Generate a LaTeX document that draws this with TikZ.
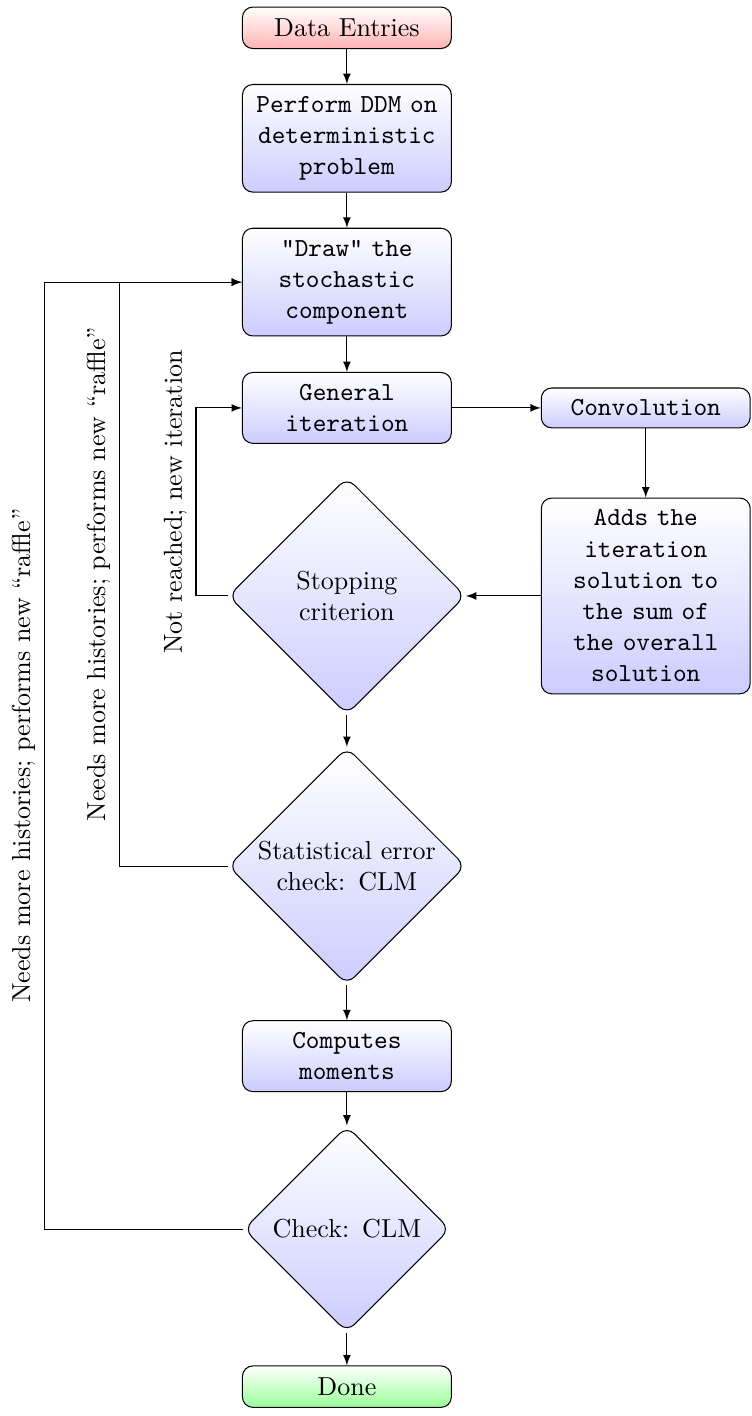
\documentclass[tikz,border=0pt]{standalone}
\usetikzlibrary{shapes.geometric,arrows,positioning}

\tikzset{
  block/.style={rectangle, draw, rounded corners, top color=white, bottom color=blue!20,
                text width=73.7pt, align=center, inner xsep=3.33pt, inner ysep=4.5pt, font=\ttfamily},
  terminal/.style={rectangle, draw, rounded corners,
                text width=73.7pt, align=center, inner xsep=3.33pt, inner ysep=4.5pt},
  decision/.style={diamond, draw, rounded corners, aspect=1, top color=white, bottom color=blue!20,
                text width=72pt, align=center, inner sep=0pt},
  line/.style={draw, -latex},
}

\begin{document}
\begin{tikzpicture}

   \useasboundingbox (0,0) rectangle (10.154,-19.144);

   % Main column
   \node[terminal, top color=white, bottom color=red!30] (data) at (4.69,-0.376) {Data Entries};
   \node[block] (ddm) at (4.69,-1.870) {Perform DDM on\\deterministic\\problem};
   \node[block] (draw) at (4.69,-3.814) {"Draw" the\\stochastic\\component};
   \node[block] (iter) at (4.69,-5.515) {General\\iteration};
   \node[decision] (stop) at (4.69,-8.057) {Stopping\\criterion};
   \node[decision] (stat) at (4.69,-11.709) {Statistical error\\check: CLM};
   \node[block] (mom) at (4.69,-14.279) {Computes\\moments};
   \node[decision] (check) at (4.69,-16.617) {Check: CLM};
   \node[terminal, top color=white, bottom color=green!40] (done) at (4.69,-18.747) {Done};

   % Side column
   \node[block] (conv) at (8.73,-5.515) {Convolution};
   \node[block] (adds) at (8.73,-8.057) {Adds the\\iteration\\solution to\\the sum of\\the overall\\solution};

   % Edges
   \path[line] (data) -- (ddm);
   \path[line] (ddm) -- (draw);
   \path[line] (draw) -- (iter);
   \path[line] (iter) -- (conv);
   \path[line] (conv) -- (adds);
   \path[line] (adds) -- (stop);
   \path[line] (stop) -- (stat);
   \path[line] (stat) -- (mom);
   \path[line] (mom) -- (check);
   \path[line] (check) -- (done);

   % Loops
   \coordinate (nr) at (2.650,-8.057);
   \path[line] (stop.west) -- (nr)
        -- node[above, sloped] {Not reached; new iteration} (nr |- iter.west) -- (iter.west);

   \coordinate (inner) at (1.613,-11.709);
   \path[line] (stat.west) -- (inner)
        -- node[above, sloped] {Needs more histories; performs new ``raffle''} (inner |- draw.west) -- (draw.west);

   \coordinate (outer) at (0.598,-16.617);
   \path[line] (check.west) -- (outer)
        -- node[above, sloped] {Needs more histories; performs new ``raffle''} (outer |- draw.west) -- (draw.west);

\end{tikzpicture}
\end{document}
